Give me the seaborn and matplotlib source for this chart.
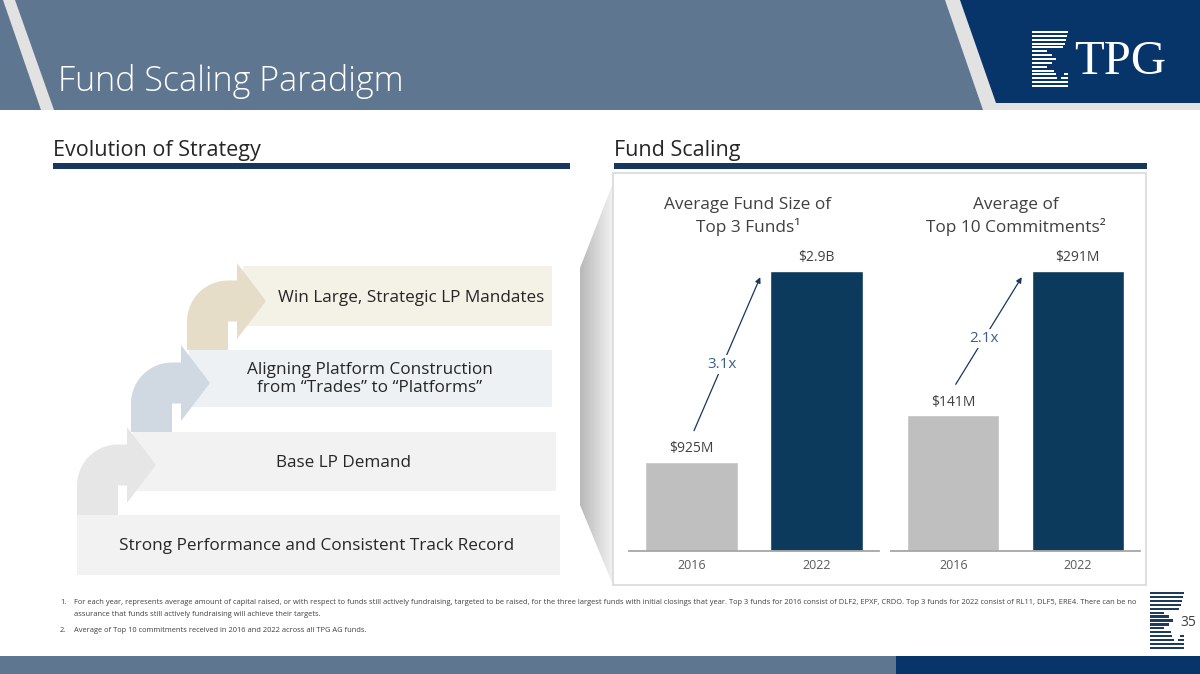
import numpy as np
import matplotlib
matplotlib.use("Agg")
import matplotlib.pyplot as plt
import seaborn as sns
from matplotlib.patches import Polygon, Rectangle

# ---------------------------------------------------------------
# Chart data
# ---------------------------------------------------------------
years = ["2016", "2022"]
fund_size_m = [925, 2900]
fund_size_labels = ["$925M", "$2.9B"]
commitments_m = [141, 291]
commitment_labels = ["$141M", "$291M"]
multiples = ["3.1x", "2.1x"]
panel_titles = ["Average Fund Size of\nTop 3 Funds\u00b9",
                "Average of\nTop 10 Commitments\u00b2"]

# strategy steps, bottom to top
steps = ["Strong Performance and Consistent Track Record",
         "Base LP Demand",
         "Aligning Platform Construction\nfrom \u201cTrades\u201d to \u201cPlatforms\u201d",
         "Win Large, Strategic LP Mandates"]

footnotes = [
    ("1.", "For each year, represents average amount of capital raised, or with respect to funds still actively "
           "fundraising, targeted to be raised, for the three largest funds with initial closings that year. Top 3 "
           "funds for 2016 consist of DLF2, EPXF, CRDO. Top 3 funds for 2022 consist of RL11, DLF5, ERE4. There can be no"),
    ("", "assurance that funds still actively fundraising will achieve their targets."),
    ("2.", "Average of Top 10 commitments received in 2016 and 2022 across all TPG AG funds."),
]

# colours
SLATE = "#5F7691"
NAVY = "#07356A"
BAR_NAVY = "#0B3A5D"
BAR_GRAY = "#BFBFBF"
LINE_NAVY = "#17375E"
TEXT = "#404040"
BLUE = "#3A5F8A"

sns.set_style("white")
plt.rcParams["font.family"] = ["Open Sans", "DejaVu Sans"]

fig = plt.figure(figsize=(12, 6.74), dpi=100)

# background canvas in pixel units (y grows downward)
bg = fig.add_axes([0, 0, 1, 1])
bg.set_xlim(0, 1200)
bg.set_ylim(674, 0)
bg.axis("off")

# ---- header ----
bg.add_patch(Polygon([(0, 0), (960, 0), (998, 110), (0, 110)], closed=True, fc=SLATE, ec="none"))
bg.add_patch(Polygon([(3, 0), (15, 0), (54, 110), (41, 110)], closed=True, fc="#E2E2E2", ec="none"))
bg.add_patch(Polygon([(945, 0), (1200, 0), (1200, 110), (983, 110)], closed=True, fc="#E2E2E2", ec="none"))
bg.add_patch(Polygon([(960, 0), (1200, 0), (1200, 103), (996, 103)], closed=True, fc=NAVY, ec="none"))
bg.text(58, 91, "Fund Scaling Paradigm", color="white", fontsize=24.5, fontweight="light",
        ha="left", va="baseline")


# TPG logo stripes (sigma-like mark)
def stripes(x0, y0, y1, width, color, n=15):
    lengths = [1.0, 0.97, 0.94, 0.91, 0.86, 0.42, 0.55, 0.68, 0.55, 0.42, 0.62, 0.66, 0.70, 0.74, 0.78]
    ys = np.linspace(y0, y1, n)
    h = (y1 - y0) / (n - 1) * 0.55
    for k, (y, f) in enumerate(zip(ys, lengths)):
        bg.add_patch(Rectangle((x0, y - h / 2), width * f, h, fc=color, ec="none"))
        if k >= 11:
            a = 0.97 - (k - 10) * 0.08
            bg.add_patch(Rectangle((x0 + width * a, y - h / 2), width * (1.0 - a), h,
                                   fc=color, ec="none"))


stripes(1032, 32, 86, 36, "white")
bg.text(1074, 74, "TPG", color="white", fontsize=35, family="Liberation Serif",
        ha="left", va="baseline")

# ---- section headings ----
bg.text(53, 156, "Evolution of Strategy", fontsize=15.5, color="#262626", ha="left", va="baseline")
bg.add_patch(Rectangle((53, 163), 517, 6, fc=LINE_NAVY, ec="none"))
bg.text(614, 156, "Fund Scaling", fontsize=15.5, color="#262626", ha="left", va="baseline")
bg.add_patch(Rectangle((614, 163), 533, 6, fc=LINE_NAVY, ec="none"))

# ---- evolution staircase ----
rect_boxes = [(77, 515, 560, 575), (133, 432, 556, 491), (189, 350, 552, 407), (243, 266, 552, 326)]
rect_colors = ["#F2F2F2", "#F2F2F2", "#EDF1F4", "#F4F1E7"]
text_pos = [(317, 546), (344, 463), (370, 379), (411, 298)]
arrow_pos = [(77, 465, 515), (131, 383, 432), (187, 301, 350)]
arrow_colors = ["#E6E6E6", "#D0D9E1", "#E6DDC8"]

for (x0, y0, x1, y1), c in zip(rect_boxes, rect_colors):
    bg.add_patch(Rectangle((x0, y0), x1 - x0, y1 - y0, fc=c, ec="none", zorder=1))


def bent_arrow(x0, ymid, ybot, color):
    w = 41
    xr = x0 + w
    yc = ymid + w / 2
    ytop = ymid - w / 2
    xh = xr + 9
    hh, hl = 38, 29
    t = np.linspace(np.pi, np.pi / 2, 30)
    arc = list(zip(xr + w * np.cos(t), yc - w * np.sin(t)))
    pts = [(x0, ybot), (x0, yc)] + arc + [(xh, ytop), (xh, ymid - hh), (xh + hl, ymid),
                                          (xh, ymid + hh), (xh, yc), (xr, yc), (xr, ybot)]
    bg.add_patch(Polygon(pts, closed=True, fc=color, ec="none", zorder=2))


for (x0, ym, yb), c in zip(arrow_pos, arrow_colors):
    bent_arrow(x0, ym, yb, c)

for (tx, ty), s in zip(text_pos, steps):
    bg.text(tx, ty, s, fontsize=12.3, color="#262626", ha="center", va="center",
            linespacing=1.25, zorder=3)

# ---- callout wedge with gradient ----
wedge = Polygon([(613, 183), (580, 268), (580, 505), (613, 585)], closed=True,
                fc="none", ec="none")
bg.add_patch(wedge)
grad = np.linspace(0, 1, 64).reshape(1, -1)
img = bg.imshow(grad, extent=(580, 613, 585, 183), cmap=matplotlib.colors.LinearSegmentedColormap.from_list(
    "g", ["#B8B8B8", "#F2F2F2"]), aspect="auto", zorder=1)
img.set_clip_path(wedge)
bg.set_xlim(0, 1200)
bg.set_ylim(674, 0)

# chart frame
bg.add_patch(Rectangle((613, 173), 533, 412, fc="white", ec="#D9D9D9", lw=1.2, zorder=1))

# ---- footnotes ----
for (num, line), y in zip(footnotes, [602, 615, 631]):
    if num:
        bg.text(60, y, num, fontsize=5.45, color=TEXT, ha="left", va="center")
    bg.text(74, y, line, fontsize=5.45, color=TEXT, ha="left", va="center")

# small logo + page number
stripes(1150, 593, 648, 34, "#1F3A5F")
bg.text(1188, 623, "35", fontsize=10, color=TEXT, ha="center", va="center")

# bottom band
bg.add_patch(Rectangle((0, 656), 896, 18, fc=SLATE, ec="none"))
bg.add_patch(Rectangle((896, 656), 304, 18, fc=NAVY, ec="none"))


# ---------------------------------------------------------------
# Bar panels
# ---------------------------------------------------------------
def draw_panel(ax, values, labels, multiple, title, title_x):
    sns.barplot(x=years, y=values, hue=years, palette=[BAR_GRAY, BAR_NAVY], width=0.74,
                saturation=1, legend=False, ax=ax)
    top = max(values) * 1.107
    ax.set_ylim(0, top)
    ax.set_xlim(-0.5, 1.5)
    ax.patch.set_alpha(0)
    for i, (v, lab) in enumerate(zip(values, labels)):
        ax.annotate(lab, (i, v), xytext=(0, 4), textcoords="offset points", ha="center",
                    va="bottom", fontsize=10, color=TEXT)
    start = (0.02, values[0] + 0.1 * top)
    end = (0.55, values[1] - 0.02 * top)
    ax.annotate("", xy=end, xytext=start,
                arrowprops=dict(arrowstyle="-|>", color=LINE_NAVY, lw=0.9, mutation_scale=8,
                                shrinkA=0, shrinkB=0))
    t = 0.43
    ax.text(start[0] + t * (end[0] - start[0]), start[1] + t * (end[1] - start[1]), multiple,
            ha="center", va="center", fontsize=11, color=BLUE,
            bbox=dict(fc="white", ec="none", pad=1.5))
    ax.text(title_x, 1.08, title, transform=ax.transAxes, ha="center", va="center",
            fontsize=12.4, color=TEXT, linespacing=1.35)
    ax.set_yticks([])
    ax.set_xlabel("")
    ax.set_ylabel("")
    for side in ["left", "right", "top"]:
        ax.spines[side].set_visible(False)
    ax.spines["bottom"].set_color("#A6A6A6")
    ax.spines["bottom"].set_linewidth(1.3)
    ax.tick_params(axis="x", length=0, pad=6, labelsize=9, labelcolor="#595959")


bottom = 1 - 551 / 674
height = 310 / 674
ax1 = fig.add_axes([629 / 1200, bottom, 250 / 1200, height])
ax2 = fig.add_axes([891 / 1200, bottom, 249 / 1200, height])
draw_panel(ax1, fund_size_m, fund_size_labels, multiples[0], panel_titles[0], 0.475)
draw_panel(ax2, commitments_m, commitment_labels, multiples[1], panel_titles[1], 0.5)

fig.savefig("out.png", dpi=100)
